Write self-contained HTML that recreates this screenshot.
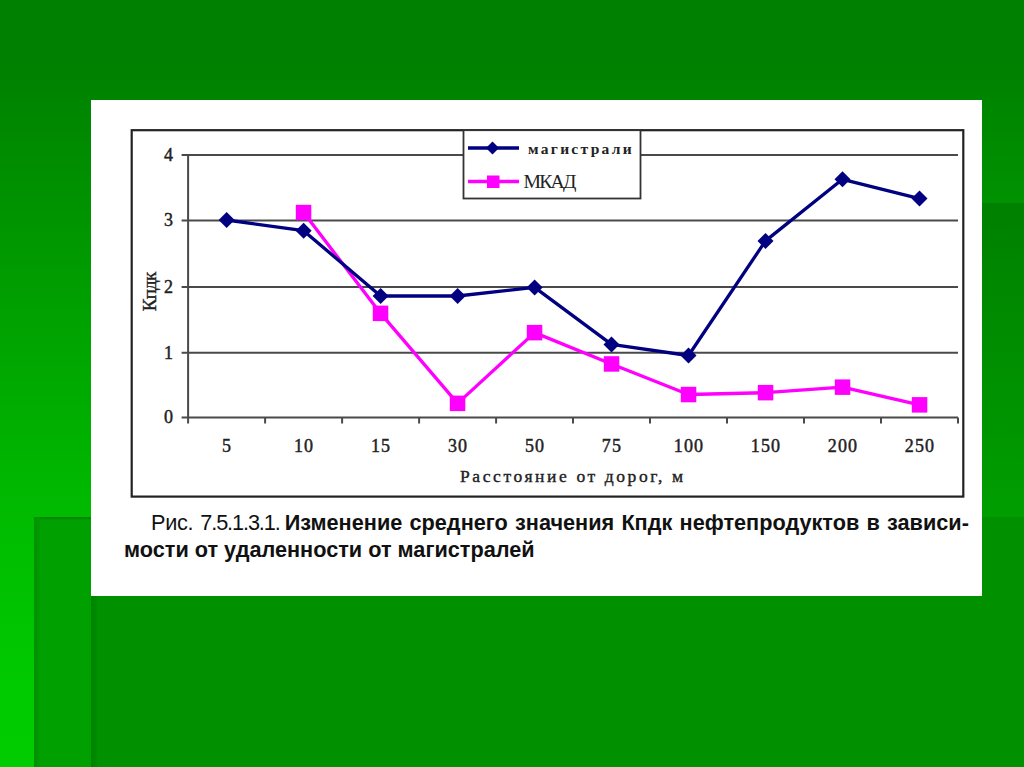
<!DOCTYPE html>
<html><head><meta charset="utf-8">
<style>
html,body{margin:0;padding:0;}
body{width:1024px;height:767px;position:relative;overflow:hidden;background:linear-gradient(to bottom,#008000 0px,#008000 60px,#00bb00 517px,#00cb00 700px,#00cc00 767px);font-family:"Liberation Sans",sans-serif;}
.abs{position:absolute;}
#rmid{left:982px;top:203px;width:42px;height:314px;background:linear-gradient(to bottom,#008000,#009e00);}
#blkA{left:34px;top:517px;width:990px;height:250px;background:#00a000;box-shadow:inset 0 3px 2px -1px rgba(0,80,0,0.35);}
#blkAsh{left:34px;top:517px;width:6px;height:250px;background:linear-gradient(to right,#009000,#009c00);}
#blkB{left:91px;top:517px;width:933px;height:250px;background:#009000;}
#blkBsh{left:91px;top:517px;width:6px;height:250px;background:linear-gradient(to right,#008200,#008c00);}
#white{left:91px;top:100px;width:891px;height:496px;background:#fff;}
svg{position:absolute;left:0;top:0;}
.cap{position:absolute;font-size:21.7px;line-height:25px;color:#111;white-space:nowrap;}
.reg{letter-spacing:-0.75px;}
</style></head><body>
<div class="abs" id="rmid"></div>
<div class="abs" id="blkA"></div>
<div class="abs" id="blkAsh"></div>
<div class="abs" id="blkB"></div>
<div class="abs" id="blkBsh"></div>
<div class="abs" id="white"></div>
<svg width="1024" height="767" viewBox="0 0 1024 767">
<rect x="131.7" y="130.2" width="831.6" height="366.4" fill="none" stroke="#222" stroke-width="2.2"/>
<g stroke="#4a4a4a" stroke-width="2">
<line x1="181.6" y1="155.0" x2="958.0" y2="155.0"/>
<line x1="181.6" y1="220.4" x2="958.0" y2="220.4"/>
<line x1="181.6" y1="287.1" x2="958.0" y2="287.1"/>
<line x1="181.6" y1="352.8" x2="958.0" y2="352.8"/>
<line x1="181.6" y1="417.4" x2="958.0" y2="417.4"/>
<line x1="188.1" y1="155.0" x2="188.1" y2="423.5"/>
<line x1="265.1" y1="417.4" x2="265.1" y2="423.5"/>
<line x1="342.1" y1="417.4" x2="342.1" y2="423.5"/>
<line x1="419.1" y1="417.4" x2="419.1" y2="423.5"/>
<line x1="496.1" y1="417.4" x2="496.1" y2="423.5"/>
<line x1="573.0" y1="417.4" x2="573.0" y2="423.5"/>
<line x1="650.0" y1="417.4" x2="650.0" y2="423.5"/>
<line x1="727.0" y1="417.4" x2="727.0" y2="423.5"/>
<line x1="804.0" y1="417.4" x2="804.0" y2="423.5"/>
<line x1="881.0" y1="417.4" x2="881.0" y2="423.5"/>
<line x1="958.0" y1="417.4" x2="958.0" y2="423.5"/>
</g>
<rect x="463.5" y="130.2" width="177" height="68.3" fill="#fff" stroke="#333" stroke-width="1.8"/>
<line x1="468" y1="148" x2="519" y2="148" stroke="#000080" stroke-width="3.3"/>
<path d="M492.5 141.5 l6.5 6.5 l-6.5 6.5 l-6.5 -6.5z" fill="#000080"/>
<line x1="468" y1="181.5" x2="519" y2="181.5" stroke="#ff00ff" stroke-width="3.3"/>
<rect x="487" y="175.5" width="12.5" height="12.5" fill="#ff00ff"/>
<text id="lg1" x="528" y="154" font-family="Liberation Serif" font-size="15.5" font-weight="bold" letter-spacing="2.3" fill="#222">магистрали</text>
<text id="lg2" x="523.5" y="188.3" font-family="Liberation Serif" font-size="19.7" letter-spacing="-1.8" fill="#222">МКАД</text>
<polyline fill="none" stroke="#ff00ff" stroke-width="3.3" stroke-linejoin="round" points="303.6,212.5 380.6,313.4 457.6,403.4 534.6,332.6 611.5,364.0 688.5,394.5 765.5,392.7 842.5,387.1 919.5,404.9"/>
<g fill="#ff00ff">
<rect x="295.8" y="204.8" width="15.5" height="15.5"/>
<rect x="372.8" y="305.6" width="15.5" height="15.5"/>
<rect x="449.8" y="395.6" width="15.5" height="15.5"/>
<rect x="526.8" y="324.9" width="15.5" height="15.5"/>
<rect x="603.8" y="356.2" width="15.5" height="15.5"/>
<rect x="680.8" y="386.8" width="15.5" height="15.5"/>
<rect x="757.8" y="384.9" width="15.5" height="15.5"/>
<rect x="834.8" y="379.4" width="15.5" height="15.5"/>
<rect x="911.8" y="397.1" width="15.5" height="15.5"/>
</g>
<polyline fill="none" stroke="#000080" stroke-width="3.3" stroke-linejoin="round" points="226.6,220.0 303.6,230.7 380.6,296.0 457.6,296.0 534.6,287.4 611.5,344.4 688.5,355.5 765.5,240.9 842.5,179.3 919.5,198.6"/>
<g fill="#000080">
<path d="M226.6 212.0 l8 8 l-8 8 l-8 -8z"/>
<path d="M303.6 222.7 l8 8 l-8 8 l-8 -8z"/>
<path d="M380.6 288.0 l8 8 l-8 8 l-8 -8z"/>
<path d="M457.6 288.0 l8 8 l-8 8 l-8 -8z"/>
<path d="M534.6 279.4 l8 8 l-8 8 l-8 -8z"/>
<path d="M611.5 336.4 l8 8 l-8 8 l-8 -8z"/>
<path d="M688.5 347.5 l8 8 l-8 8 l-8 -8z"/>
<path d="M765.5 232.9 l8 8 l-8 8 l-8 -8z"/>
<path d="M842.5 171.3 l8 8 l-8 8 l-8 -8z"/>
<path d="M919.5 190.6 l8 8 l-8 8 l-8 -8z"/>
</g>
<g font-family="Liberation Serif" font-size="18" fill="#222" stroke="#222" stroke-width="0.45" text-anchor="end">
<text x="173" y="161.0">4</text>
<text x="173" y="226.4">3</text>
<text x="173" y="293.1">2</text>
<text x="173" y="358.8">1</text>
<text x="173" y="423.4">0</text>
</g>
<g font-family="Liberation Serif" font-size="18" fill="#222" stroke="#222" stroke-width="0.45" text-anchor="middle" letter-spacing="1.2">
<text x="227.1" y="452.2">5</text>
<text x="304.1" y="452.2">10</text>
<text x="381.1" y="452.2">15</text>
<text x="458.1" y="452.2">30</text>
<text x="535.1" y="452.2">50</text>
<text x="612.0" y="452.2">75</text>
<text x="689.0" y="452.2">100</text>
<text x="766.0" y="452.2">150</text>
<text x="843.0" y="452.2">200</text>
<text x="920.0" y="452.2">250</text>
</g>
<text id="xt" x="460" y="481.9" font-family="Liberation Serif" font-size="17.5" letter-spacing="2.6" fill="#222" stroke="#222" stroke-width="0.4">Расстояние от дорог, м</text>
<text transform="translate(156.3,291.9) rotate(-90)" text-anchor="middle" font-family="Liberation Serif" font-size="19" letter-spacing="-0.8" fill="#222" stroke="#222" stroke-width="0.35">Кпдк</text>
</svg>
<div class="cap" style="left:151px;top:510px;"><span style="letter-spacing:-0.3px">Рис.</span><span style="display:inline-block;width:7px"></span><span style="letter-spacing:-1.1px">7.5.1.3.1.</span><span style="display:inline-block;width:5px"></span><b style="word-spacing:1.2px">Изменение среднего значения Кпдк нефтепродуктов в зависи-</b></div>
<div class="cap" style="left:124px;top:537px;"><b>мости от удаленности от магистралей</b></div>
</body></html>
